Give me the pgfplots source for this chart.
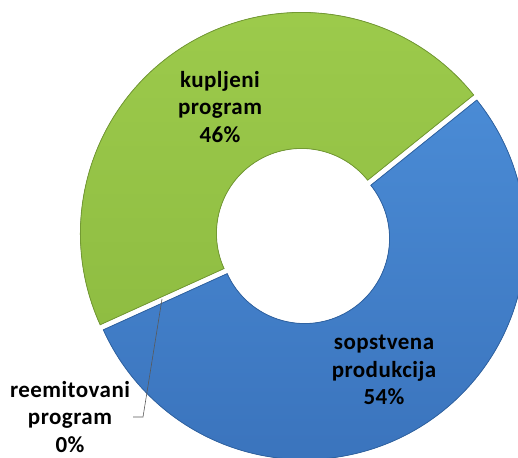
\documentclass[border=0pt]{standalone}
\usepackage{pgfplots}
\pgfplotsset{compat=1.18}
\usepackage{fontspec}
\setmainfont{Carlito}

\definecolor{blueTop}{HTML}{4A8BD5}
\definecolor{blueBot}{HTML}{3A73BC}
\definecolor{ringbluedark}{HTML}{2F63A3}
\definecolor{greenTop}{HTML}{9DCB4C}
\definecolor{greenBot}{HTML}{8FBD42}
\definecolor{ringgreendark}{HTML}{739A33}

% shares in percent, clockwise from the start angle
\def\vSop{54}   % sopstvena produkcija
\def\vRee{0}    % reemitovani program
\def\vKup{46}   % kupljeni program

\def\cx{303}\def\cy{221}
\def\Rout{221}\def\Rin{85}
\def\startang{38.8}
\def\explode{3}

\begin{document}
\begin{tikzpicture}
\pgfmathsetmacro\aA{\startang}
\pgfmathsetmacro\aB{\aA-3.6*\vSop}
\pgfmathsetmacro\aC{\aB-3.6*\vRee}
\pgfmathsetmacro\aD{\aC-3.6*\vKup}
\pgfmathsetmacro\mSop{(\aA+\aB)/2}
\pgfmathsetmacro\mKup{(\aC+\aD)/2}
\begin{axis}[
    at={(0,0)}, anchor=south west,
    x=1pt, y=1pt, scale only axis,
    xmin=0, xmax=518, ymin=0, ymax=457,
    hide axis, clip=false,
]
% wedge: sopstvena produkcija
\filldraw[top color=blueTop, bottom color=blueBot, draw=ringbluedark, line width=0.8pt, shift={(\mSop:\explode)}]
  ([shift={(\aA:\Rout)}]axis cs:\cx,\cy) arc[start angle=\aA, end angle=\aB, radius=\Rout]
  -- ([shift={(\aB:\Rin)}]axis cs:\cx,\cy) arc[start angle=\aB, end angle=\aA, radius=\Rin]
  -- cycle;
% wedge: kupljeni program
\filldraw[top color=greenTop, bottom color=greenBot, draw=ringgreendark, line width=0.8pt, shift={(\mKup:\explode)}]
  ([shift={(\aC:\Rout)}]axis cs:\cx,\cy) arc[start angle=\aC, end angle=\aD, radius=\Rout]
  -- ([shift={(\aD:\Rin)}]axis cs:\cx,\cy) arc[start angle=\aD, end angle=\aC, radius=\Rin]
  -- cycle;

% leader line for the 0% share
\draw[gray!70!black, line width=0.6pt] (axis cs:133,40) -- (axis cs:143,40) -- (axis cs:162,158);

% labels
\begin{scope}[every node/.style={align=center, font=\fontsize{23}{27.5}\selectfont\bfseries\addfontfeature{LetterSpace=2}}]
\node at (axis cs:220,350) {kupljeni\\program\\46\%};
\node at (axis cs:384,87) {sopstvena\\produkcija\\54\%};
\node at (axis cs:70,40) {reemitovani\\program\\0\%};
\end{scope}
\end{axis}
\pgfresetboundingbox
\path (0,0) rectangle (518pt,457pt);
\end{tikzpicture}
\end{document}
